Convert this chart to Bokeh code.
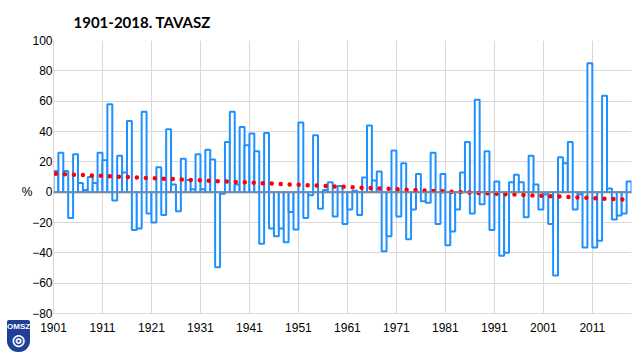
from bokeh.plotting import figure
from bokeh.models import Range1d, FixedTicker, Span, Div
from bokeh.layouts import column
from bokeh.embed import file_html
from bokeh.resources import INLINE

title_text = "1901-2018. TAVASZ"
years = list(range(1901, 2019))
values = [
    14, 26, 14, -17, 25, 6, 1.5, 10, 6, 26,          # 1901-1910
    21, 58, -5.5, 24, 13, 47, -25, -24, 53, -14,     # 1911-1920
    -20, 16.5, -15, 41.5, 5, -12.5, 22, 8, 2, 25,    # 1921-1930
    2, 28, 21.5, -49.5, -1, 33, 53, 5, 43, 31,       # 1931-1940
    38.7, 27, -34, 39, -24, -29, -24, -33, -13, -24.6,  # 1941-1950
    46, -17, -2, 37.6, -11, 1.5, 6.5, -16, 4, -21,   # 1951-1960
    -11.4, 1, -15, 9.7, 44, 7.7, 13.6, -39, -29, 27.5,  # 1961-1970
    -16, 19, -31, -11.4, 12, -6, -7, 26, -21, 12,    # 1971-1980
    -35, -26, -11.4, 13, 33, -14, 61, -8, 27, -25,   # 1981-1990
    7, -42, -40, 6.5, 11.5, 6.5, -16.5, 24, 5, -11.4,  # 1991-2000
    -1.5, -21, -55, 23, 19, 33, -11.4, -1.5, -36.5, 85,  # 2001-2010
    -36.5, -32, 63.5, 2.4, -18, -15.4, -14, 7,       # 2011-2018
]
trend_years = [1901, 2018]
trend_values = [12.1, -5.0]
x_ticks = [1901, 1911, 1921, 1931, 1941, 1951, 1961, 1971, 1981, 1991, 2001, 2011]
y_ticks = [-80, -60, -40, -20, 0, 20, 40, 60, 80, 100]
unit_label = "%"
logo_text = "OMSZ"

p = figure(width=632, height=352, output_backend="svg", toolbar_location=None,
           x_range=Range1d(1901, 2019), y_range=Range1d(-80, 100),
           min_border_left=53, min_border_right=1, min_border_top=40, min_border_bottom=39)
p.outline_line_color = None
p.background_fill_color = "white"

p.title.text = title_text
p.title.text_font = "Lato"
p.title.text_font_size = "15px"
p.title.text_font_style = "bold"
p.title.text_color = "black"
p.title.align = "left"
p.title.offset = 20
p.title.standoff = 19

p.xaxis.ticker = FixedTicker(ticks=x_ticks)
p.yaxis.ticker = FixedTicker(ticks=y_ticks)
for ax in (p.xaxis, p.yaxis):
    ax.major_label_text_font = "Liberation Sans"
    ax.major_label_text_font_size = "12px"
    ax.major_label_text_color = "black"
    ax.major_tick_line_color = None
    ax.major_tick_out = 0
    ax.major_tick_in = 0
    ax.minor_tick_line_color = None
    ax.axis_line_color = "#d9d9d9"
p.yaxis.major_label_standoff = 1
p.yaxis.major_label_overrides = {0: unit_label + "\u00a0\u00a0\u00a0\u00a00"}
p.xaxis.major_label_standoff = 9
p.xgrid.ticker = FixedTicker(ticks=x_ticks)
p.ygrid.ticker = FixedTicker(ticks=y_ticks)
p.xgrid.grid_line_color = "#d9d9d9"
p.ygrid.grid_line_color = "#d9d9d9"

bar_x = [y + 0.5 for y in years]
p.vbar(x=bar_x, width=1, top=values, bottom=0, fill_color="white",
       line_color="#1e90ff", line_width=2)

p.add_layout(Span(location=0, dimension="width", line_color="#868686", line_width=1.5))

p.line(x=[y + 0.5 for y in trend_years], y=trend_values, line_color="#ff0000",
       line_width=4.5, line_dash="0 9", line_cap="round")

logo = Div(
    text=logo_text + "<br><span style='font-size:15px;line-height:16px'>&#x25CE;</span>",
    width=23, height=32,
    styles={
        "margin-top": "-32px",
        "margin-left": "7px",
        "background-color": "#1f3f99",
        "color": "white",
        "font-family": "Liberation Sans",
        "font-weight": "bold",
        "font-size": "8px",
        "line-height": "10px",
        "text-align": "center",
        "padding-top": "2px",
        "box-sizing": "border-box",
        "border-radius": "2px 2px 11px 11px",
        "overflow": "hidden",
        "z-index": "10",
    },
)

layout = column(p, logo, spacing=0)
open("out.html", "w").write(file_html(layout, INLINE))
